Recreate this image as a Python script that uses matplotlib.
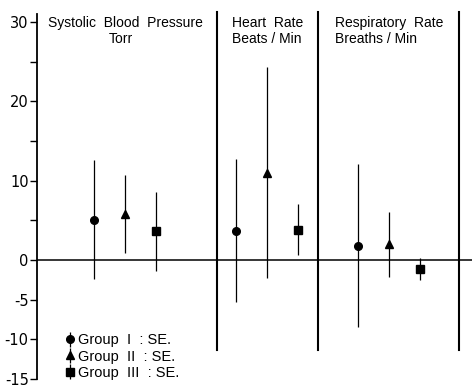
import matplotlib
matplotlib.use("Agg")
import matplotlib.pyplot as plt

plt.rcParams['font.family'] = ['Liberation Sans', 'DejaVu Sans']

# ---- data ----
panel_titles = ["Systolic  Blood  Pressure", "Heart  Rate", "Respiratory  Rate"]
panel_units = ["Torr", "Beats / Min", "Breaths / Min"]
groups = ["Group  I  : SE.", "Group  II  : SE.", "Group  III  : SE."]
means = {
    "Group  I  : SE.":   [5.1, 3.7, 1.8],
    "Group  II  : SE.":  [5.8, 11.0, 2.0],
    "Group  III  : SE.": [3.6, 3.8, -1.1],
}
se = {
    "Group  I  : SE.":   [7.5, 9.0, 10.3],
    "Group  II  : SE.":  [4.9, 13.3, 4.1],
    "Group  III  : SE.": [5.0, 3.2, 1.4],
}
yticks = [30, 25, 20, 15, 10, 5, 0, -5, -10, -15]
ytick_labels = ["30", "", "20", "", "10", "", "0", "-5", "-10", "-15"]

# ---- layout ----
centers = [2.85, 7.42, 11.35]
offsets = [-1.0, 0.0, 1.0]
separators = [5.81, 9.06, 13.61]
markers = ["o", "^", "s"]
msizes = [5.5, 6.0, 5.2]

fig = plt.figure(figsize=(4.72, 3.88), dpi=100)
ax = fig.add_axes([37/472, 9/388, 1 - 37/472, (379 - 14)/388])
ax.set_xlim(0, 14.03)
ax.set_ylim(-15, 31)

for gi, g in enumerate(groups):
    xs = [c + offsets[gi] for c in centers]
    ax.errorbar(xs, means[g], yerr=se[g], fmt=markers[gi], color="black",
                ms=msizes[gi], elinewidth=0.9, capsize=0, label=g)

ax.axhline(0, color="black", lw=1.1)
for s in separators:
    ax.plot([s, s], [-11.4, 31.2], color="black", lw=1.5, clip_on=False)

title_x = [0.35, 6.29, 9.61]
unit_x = [2.71, 6.29, 9.61]
unit_ha = ["center", "left", "left"]
for i in range(3):
    ax.text(title_x[i], 29.9, panel_titles[i], fontsize=10, ha="left", va="center")
    ax.text(unit_x[i], 27.9, panel_units[i], fontsize=10, ha=unit_ha[i], va="center")

for sp in ["top", "right", "bottom"]:
    ax.spines[sp].set_visible(False)
ax.spines["left"].set_linewidth(1.3)
ax.set_xticks([])
ax.set_yticks(yticks)
ax.set_yticklabels(ytick_labels, fontsize=10.5, family="DejaVu Sans")
ax.tick_params(axis="y", direction="out", length=5, width=1.0, pad=1)

leg = ax.legend(loc="lower left", bbox_to_anchor=(0.045, -0.018), frameon=False,
                fontsize=10.5, handletextpad=0.05, handlelength=1.0,
                labelspacing=0.15, borderaxespad=0.0)
for h in leg.legend_handles:
    try:
        h.set_linestyle("none")
    except Exception:
        pass

fig.savefig("out.png", dpi=100)
